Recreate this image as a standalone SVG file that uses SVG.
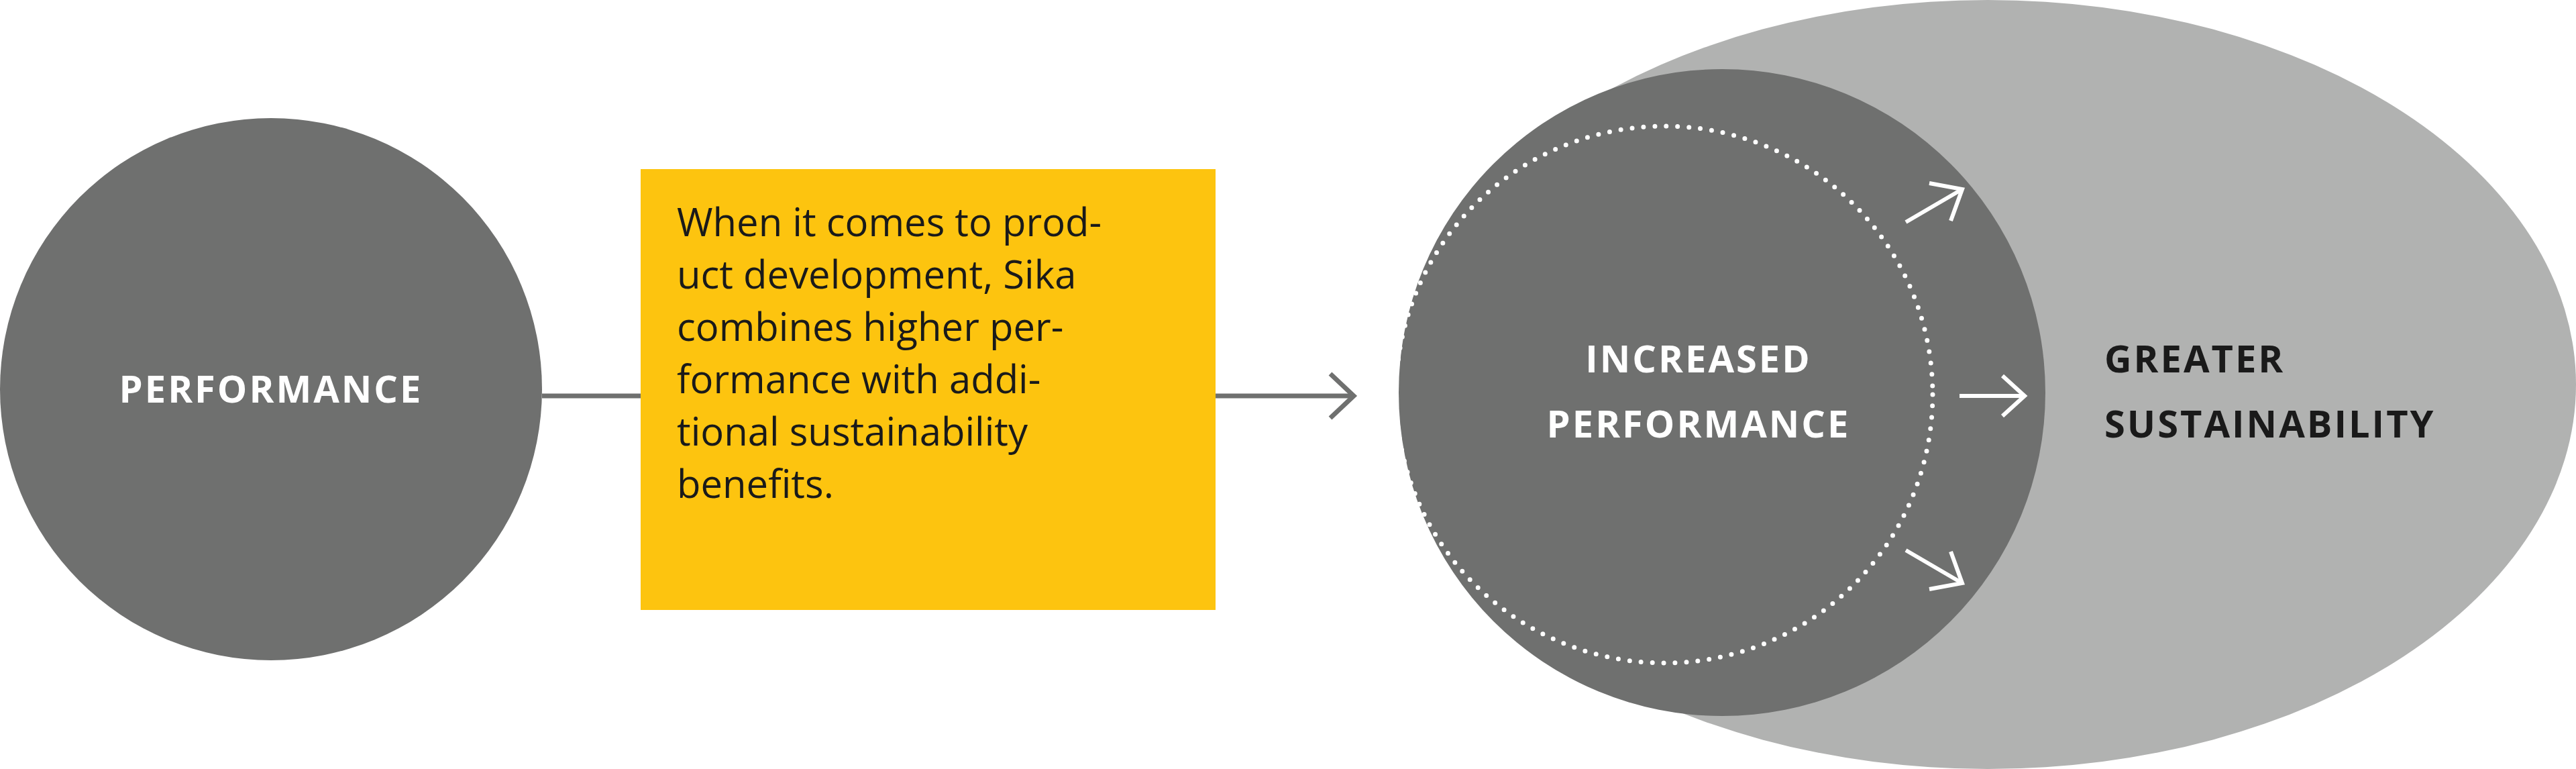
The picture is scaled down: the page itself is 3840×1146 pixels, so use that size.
<svg xmlns="http://www.w3.org/2000/svg" width="3840" height="1146" viewBox="0 0 3840 1146">
<style>
.w{fill:#fff;font-family:"Open Sans","Liberation Sans",sans-serif;font-weight:700;font-size:56px;letter-spacing:3px}
.k{fill:#1a1a1a;font-family:"Open Sans","Liberation Sans",sans-serif;font-weight:700;font-size:56px;letter-spacing:3px}
.t{fill:#1a1a1a;font-family:"Open Sans","Liberation Sans",sans-serif;font-size:58px}
.ln{stroke:#6f706f;stroke-width:7;fill:none}
.wa{stroke:#fff;stroke-width:6;fill:none}
</style>
<rect width="3840" height="1146" fill="#fff"/>
<g id="connectors">
<line class="ln" x1="808" y1="590" x2="955" y2="590"/>
<line class="ln" x1="1812" y1="590" x2="2018" y2="590"/>
<polyline class="ln" points="1983,557 2018,590 1983,623"/>
</g>
<g id="performance">
<circle cx="404" cy="580" r="404" fill="#6f706f"/>
<text class="w" x="404" y="600" text-anchor="middle">PERFORMANCE</text>
</g>
<g id="textbox">
<rect x="955" y="252" width="857" height="657" fill="#fdc40f"/>
<text class="t" x="1009" y="352">When it comes to prod-</text>
<text class="t" x="1009" y="430">uct development, Sika</text>
<text class="t" x="1009" y="508">combines higher per-</text>
<text class="t" x="1009" y="586">formance with addi-</text>
<text class="t" x="1009" y="664">tional sustainability</text>
<text class="t" x="1009" y="742">benefits.</text>
</g>
<g id="greater-sustainability">
<ellipse cx="2963" cy="573" rx="877" ry="573" fill="#b1b2b1"/>
<text class="k" x="3137" y="555">GREATER</text>
<text class="k" x="3137" y="652">SUSTAINABILITY</text>
</g>
<g id="increased-performance">
<circle cx="2567" cy="585" r="482" fill="#6f706f"/>
<circle cx="2481" cy="588" r="400" fill="none" stroke="#fff" stroke-width="7" stroke-dasharray="0 17" stroke-linecap="round"/>
<text class="w" x="2532" y="555" text-anchor="middle">INCREASED</text>
<text class="w" x="2532" y="652" text-anchor="middle">PERFORMANCE</text>
</g>
<g id="arrows">
<line class="wa" x1="2841" y1="331" x2="2925" y2="282"/><polyline class="wa" points="2876,273 2925,282 2908,329"/>
<line class="wa" x1="2921" y1="590" x2="3018" y2="590"/><polyline class="wa" points="2985,560 3018,590 2985,620"/>
<line class="wa" x1="2841" y1="820" x2="2925" y2="869"/><polyline class="wa" points="2908,822 2925,869 2876,878"/>
</g>
</svg>
